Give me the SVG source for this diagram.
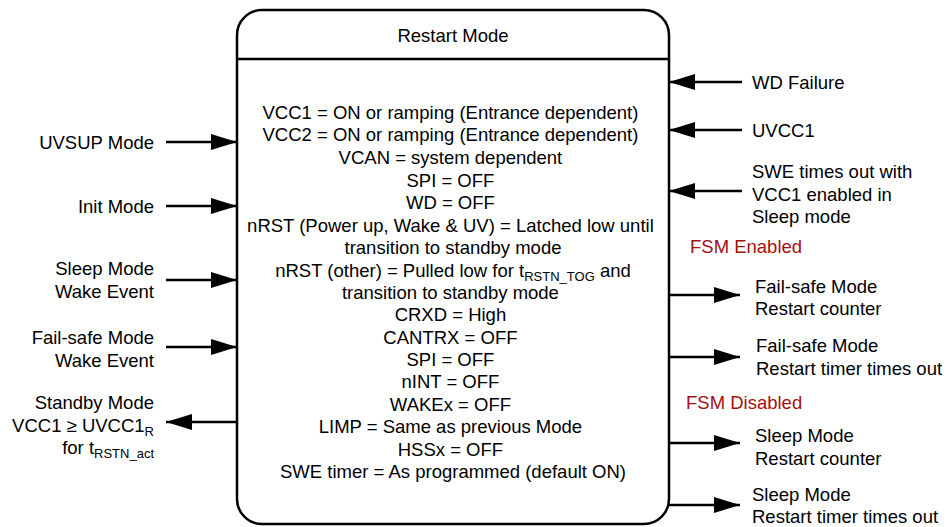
<svg xmlns="http://www.w3.org/2000/svg" width="947" height="527" viewBox="0 0 947 527">
<defs>
<style>
text{font-family:"Liberation Sans",Arial,sans-serif;font-size:18.5px;fill:#000}
.c{text-anchor:middle}
.r{text-anchor:end}
.red{fill:#a50f0f}
.ln{stroke:#000;stroke-width:2.5;fill:none}
.sub{font-size:13px}
</style>
<marker id="ah" viewBox="0 0 26 16" refX="26" refY="8" markerWidth="26" markerHeight="16" markerUnits="userSpaceOnUse" orient="auto">
<path d="M0,0 L26,8 L0,16 Z" fill="#000"/>
</marker>
</defs>
<rect width="947" height="527" fill="#fff"/>
<g id="restart-mode">
<rect x="237" y="10" width="432" height="514" rx="25" ry="25" class="ln"/>
<line x1="237" y1="59" x2="669" y2="59" class="ln"/>
<text x="453" y="42" class="c">Restart Mode</text>
<text class="c" x="453">
<tspan x="453" y="119">VCC1 = ON or ramping (Entrance dependent)</tspan>
<tspan x="453" y="141">VCC2 = ON or ramping (Entrance dependent)</tspan>
<tspan x="453" y="164">VCAN = system dependent</tspan>
<tspan x="453" y="187">SPI = OFF</tspan>
<tspan x="453" y="209">WD = OFF</tspan>
<tspan x="453" y="232">nRST (Power up, Wake &amp; UV) = Latched low until</tspan>
<tspan x="453" y="254">transition to standby mode</tspan>
</text>
<text class="c" x="453" y="277">nRST (other) = Pulled low for t<tspan class="sub" dy="4">RSTN_TOG</tspan><tspan dy="-4"> and</tspan></text>
<text class="c" x="453">
<tspan x="453" y="299">transition to standby mode</tspan>
<tspan x="453" y="321">CRXD = High</tspan>
<tspan x="453" y="344">CANTRX = OFF</tspan>
<tspan x="453" y="366">SPI = OFF</tspan>
<tspan x="453" y="388">nINT = OFF</tspan>
<tspan x="453" y="411">WAKEx = OFF</tspan>
<tspan x="453" y="433">LIMP = Same as previous Mode</tspan>
<tspan x="453" y="456">HSSx = OFF</tspan>
<tspan x="453" y="478">SWE timer = As programmed (default ON)</tspan>
</text>
</g>
<g id="uvsup-mode"><text x="154" y="149" class="r">UVSUP Mode</text></g>
<g id="init-mode"><text x="154" y="213" class="r">Init Mode</text></g>
<g id="sleep-wake"><text x="154" y="275" class="r">Sleep Mode</text><text x="154" y="298" class="r">Wake Event</text></g>
<g id="failsafe-wake"><text x="154" y="344" class="r">Fail-safe Mode</text><text x="154" y="367" class="r">Wake Event</text></g>
<g id="standby-mode"><text x="154" y="409" class="r">Standby Mode</text><text x="154" y="432" class="r">VCC1 ≥ UVCC1<tspan class="sub" dy="4">R</tspan></text><text x="154" y="454" class="r">for t<tspan class="sub" dy="4">RSTN_act</tspan></text></g>
<g id="wd-failure"><text x="752" y="89">WD Failure</text></g>
<g id="uvcc1"><text x="752" y="137">UVCC1</text></g>
<g id="swe-timeout"><text x="752" y="178">SWE times out with</text><text x="752" y="201">VCC1 enabled in</text><text x="752" y="223">Sleep mode</text></g>
<g id="fsm-enabled"><text x="690" y="253" class="red">FSM Enabled</text></g>
<g id="fs-counter"><text x="755" y="293">Fail-safe Mode</text><text x="755" y="315">Restart counter</text></g>
<g id="fs-timer"><text x="756" y="352">Fail-safe Mode</text><text x="756" y="375">Restart timer times out</text></g>
<g id="fsm-disabled"><text x="686" y="409" class="red">FSM Disabled</text></g>
<g id="sleep-counter"><text x="755" y="442">Sleep Mode</text><text x="755" y="465">Restart counter</text></g>
<g id="sleep-timer"><text x="752" y="501">Sleep Mode</text><text x="752" y="523">Restart timer times out</text></g>
<g id="connectors" class="ln" marker-end="url(#ah)">
<line x1="166" y1="142" x2="237" y2="142"/>
<line x1="166" y1="206" x2="237" y2="206"/>
<line x1="166" y1="280" x2="237" y2="280"/>
<line x1="166" y1="347" x2="237" y2="347"/>
<line x1="237" y1="422" x2="166" y2="422"/>
<line x1="742" y1="82" x2="669" y2="82"/>
<line x1="742" y1="130" x2="669" y2="130"/>
<line x1="742" y1="191" x2="669" y2="191"/>
<line x1="669" y1="295" x2="740" y2="295"/>
<line x1="669" y1="357" x2="740" y2="357"/>
<line x1="669" y1="443" x2="740" y2="443"/>
<line x1="669" y1="505" x2="740" y2="505"/>
</g>
</svg>
